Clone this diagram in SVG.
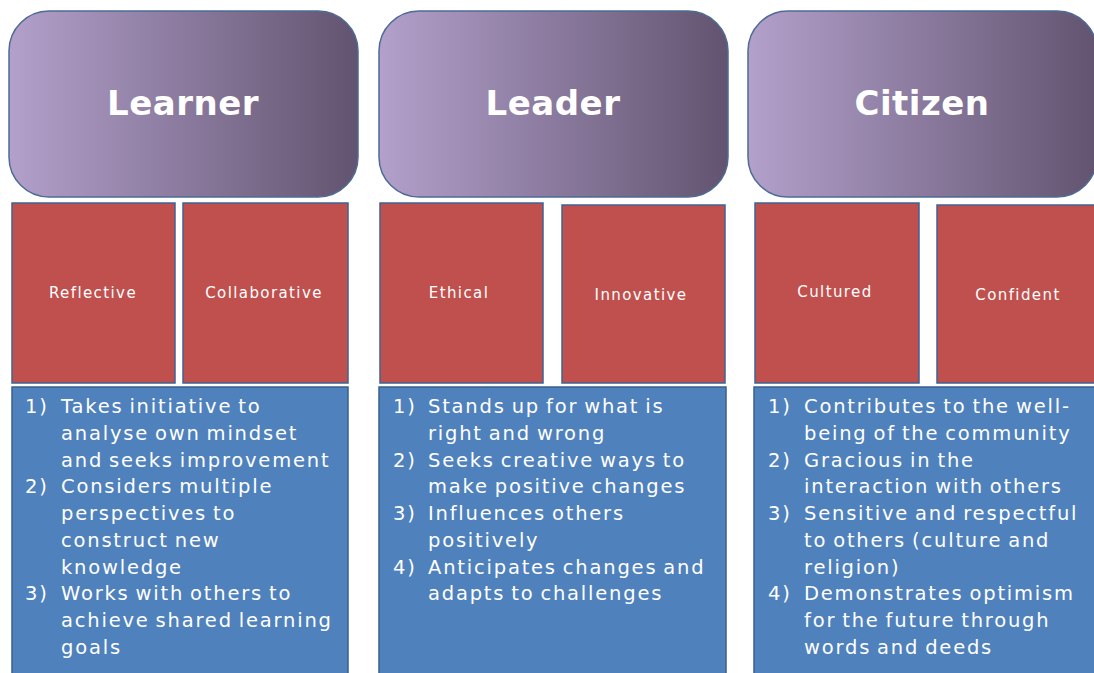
<svg xmlns="http://www.w3.org/2000/svg" width="1094" height="673" viewBox="0 0 1094 673">
<defs>
<linearGradient id="pg" x1="0" y1="0" x2="1" y2="0">
<stop offset="0" stop-color="#B3A0CB"/>
<stop offset="1" stop-color="#625470"/>
</linearGradient>
</defs>
<style>
.hdr{fill:url(#pg);stroke:#4E6B94;stroke-width:1.5}
.red{fill:#C0504D;stroke:#3E6394;stroke-width:1.5}
.blue{fill:#4F81BD;stroke:#3A5F8E;stroke-width:1.5}
.ht{font-family:"DejaVu Sans",sans-serif;font-weight:bold;font-size:34px;fill:#FFFFFF;text-anchor:middle;letter-spacing:0.5px}
.rt{font-family:"DejaVu Sans",sans-serif;font-size:15px;fill:#FFFFFF;text-anchor:middle;letter-spacing:1.4px}
.bt{font-family:"DejaVu Sans",sans-serif;font-size:19.5px;fill:#FFFFFF;letter-spacing:1.8px;word-spacing:-2px}
</style>
<rect width="1094" height="673" fill="#FFFFFF"/>
<g id="learner">
<rect class="hdr" x="9" y="11" width="349" height="186" rx="40"/>
<text class="ht" x="183" y="115">Learner</text>
</g>
<g id="leader">
<rect class="hdr" x="379" y="11" width="349" height="186" rx="40"/>
<text class="ht" x="553" y="115">Leader</text>
</g>
<g id="citizen">
<rect class="hdr" x="748" y="11" width="349" height="186" rx="40"/>
<text class="ht" x="922" y="115">Citizen</text>
</g>
<g id="reflective">
<rect class="red" x="12" y="203" width="163" height="180"/>
<text class="rt" x="93" y="298">Reflective</text>
</g>
<g id="collaborative">
<rect class="red" x="183" y="203" width="165" height="180"/>
<text class="rt" x="264" y="298">Collaborative</text>
</g>
<g id="ethical">
<rect class="red" x="380" y="203" width="163" height="180"/>
<text class="rt" x="459" y="298">Ethical</text>
</g>
<g id="innovative">
<rect class="red" x="562" y="205" width="163" height="178"/>
<text class="rt" x="641" y="300">Innovative</text>
</g>
<g id="cultured">
<rect class="red" x="755" y="203" width="164" height="180"/>
<text class="rt" x="835" y="297">Cultured</text>
</g>
<g id="confident">
<rect class="red" x="937" y="205" width="164" height="178"/>
<text class="rt" x="1018" y="300">Confident</text>
</g>
<g id="learner-list">
<rect class="blue" x="12" y="387" width="336" height="300"/>
<text class="bt">
<tspan x="25" y="413">1)</tspan><tspan x="61" y="413">Takes initiative to</tspan>
<tspan x="61" y="440">analyse own mindset</tspan>
<tspan x="61" y="467">and seeks improvement</tspan>
<tspan x="25" y="493">2)</tspan><tspan x="61" y="493">Considers multiple</tspan>
<tspan x="61" y="520">perspectives to</tspan>
<tspan x="61" y="547">construct new</tspan>
<tspan x="61" y="574">knowledge</tspan>
<tspan x="25" y="600">3)</tspan><tspan x="61" y="600">Works with others to</tspan>
<tspan x="61" y="627">achieve shared learning</tspan>
<tspan x="61" y="654">goals</tspan>
</text>
</g>
<g id="leader-list">
<rect class="blue" x="379" y="387" width="347" height="300"/>
<text class="bt">
<tspan x="393" y="413">1)</tspan><tspan x="428" y="413">Stands up for what is</tspan>
<tspan x="428" y="440">right and wrong</tspan>
<tspan x="393" y="467">2)</tspan><tspan x="428" y="467">Seeks creative ways to</tspan>
<tspan x="428" y="493">make positive changes</tspan>
<tspan x="393" y="520">3)</tspan><tspan x="428" y="520">Influences others</tspan>
<tspan x="428" y="547">positively</tspan>
<tspan x="393" y="574">4)</tspan><tspan x="428" y="574">Anticipates changes and</tspan>
<tspan x="428" y="600">adapts to challenges</tspan>
</text>
</g>
<g id="citizen-list">
<rect class="blue" x="754" y="387" width="350" height="300"/>
<text class="bt">
<tspan x="768" y="413">1)</tspan><tspan x="804" y="413">Contributes to the well-</tspan>
<tspan x="804" y="440">being of the community</tspan>
<tspan x="768" y="467">2)</tspan><tspan x="804" y="467">Gracious in the</tspan>
<tspan x="804" y="493">interaction with others</tspan>
<tspan x="768" y="520">3)</tspan><tspan x="804" y="520">Sensitive and respectful</tspan>
<tspan x="804" y="547">to others (culture and</tspan>
<tspan x="804" y="574">religion)</tspan>
<tspan x="768" y="600">4)</tspan><tspan x="804" y="600">Demonstrates optimism</tspan>
<tspan x="804" y="627">for the future through</tspan>
<tspan x="804" y="654">words and deeds</tspan>
</text>
</g>
<g id="connectors"/>
</svg>
